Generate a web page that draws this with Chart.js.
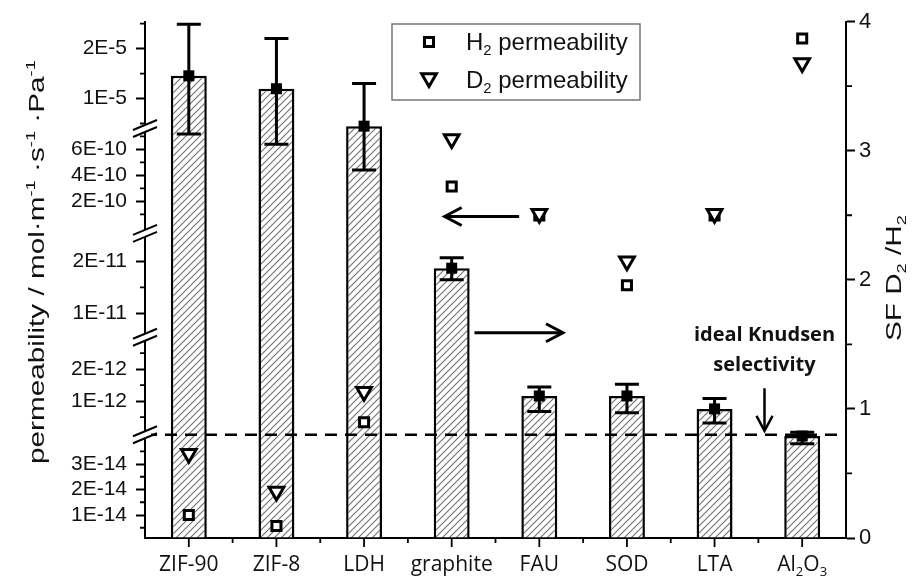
<!DOCTYPE html>
<html><head><meta charset="utf-8">
<script src="https://cdn.jsdelivr.net/npm/chart.js@4.4.0/dist/chart.umd.min.js"></script>
<style>html,body{margin:0;padding:0;background:#fff}canvas{display:block}</style>
</head><body>
<canvas id="c" width="916" height="577"></canvas>
<script>
// ---------- data ----------
const categories = ['ZIF-90','ZIF-8','LDH','graphite','FAU','SOD','LTA','Al_{2}O_{3}'];
const sfValues   = [3.58, 3.48, 3.19, 2.09, 1.10, 1.10, 1.00, 0.79];
const sfErrLow   = [3.13, 3.05, 2.85, 2.00, 0.98, 0.97, 0.89, 0.73];
const sfErrHigh  = [3.98, 3.87, 3.52, 2.17, 1.17, 1.19, 1.08, 0.82];
const h2Perm = [1.0e-14, 0.57e-14, 0.34e-12, 3.15e-10, 0.93e-10, 1.54e-11, 0.93e-10, 2.2e-5];
const d2Perm = [3.4e-14, 1.92e-14, 1.29e-12, 6.8e-10, 1.05e-10, 2.0e-11, 1.05e-10, 1.71e-5];
const knudsenSF = 0.80;
const permTickLabels = ['2E-5','1E-5','6E-10','4E-10','2E-10','2E-11','1E-11','2E-12','1E-12','3E-14','2E-14','1E-14'];
const permTickValues = [2e-5,1e-5,6e-10,4e-10,2e-10,2e-11,1e-11,2e-12,1e-12,3e-14,2e-14,1e-14];
const permMinorValues = [2.5e-5,1.5e-5,0.5e-5,7e-10,5e-10,3e-10,1e-10,1.5e-11,2.5e-12,1.5e-12,0.5e-12,3.5e-14,2.5e-14,1.5e-14,0.5e-14];
const sfMinorTicks = [0.5,1.5,2.5,3.5];

// ---------- broken left axis (piecewise linear, in units of the right axis) ----------
const permSegments = [
  {min:0,     max:1e-13, v0:1e-14, v1:3e-14, u0:0.178, u1:0.573},
  {min:1e-13, max:5e-12, v0:1e-12, v1:2e-12, u0:1.060, u1:1.308},
  {min:5e-12, max:5e-11, v0:1e-11, v1:2e-11, u0:1.741, u1:2.143},
  {min:5e-11, max:1e-8,  v0:2e-10, v1:6e-10, u0:2.607, u1:3.010},
  {min:1e-8,  max:1,     v0:1e-5,  v1:2e-5,  u0:3.404, u1:3.791}
];
const axisBreaksU = [0.80, 1.555, 2.36, 3.172];
function permToU(v){
  const s = permSegments.find(s => v >= s.min && v < s.max);
  return s.u0 + (v - s.v0) / (s.v1 - s.v0) * (s.u1 - s.u0);
}

// ---------- annotations (data coordinates: category index, right-axis units) ----------
const arrowNotes = [
  {from:[3.77, 2.49], to:[2.92, 2.49], head:17, half:9, lw:3},
  {from:[3.26, 1.59], to:[4.27, 1.59], head:17, half:9, lw:3},
  {from:[6.57, 1.16], to:[6.57, 0.83], head:15, half:8, lw:2.5}
];
const textNotes = [
  {text:'ideal Knudsen', at:[6.57, 1.583]},
  {text:'selectivity',   at:[6.57, 1.344]}
];

const SANS = '"Liberation Sans", Arial, sans-serif';
const LBL = '"Open Sans", sans-serif';

// ---------- rich text helpers ----------
function parseRich(str){
  const parts=[]; const re=/(_|\^)\{([^}]*)\}/g; let last=0, m;
  while((m=re.exec(str))){
    if(m.index>last) parts.push({t:str.slice(last,m.index)});
    parts.push({t:m[2], sub:m[1]==='_', sup:m[1]==='^'});
    last=re.lastIndex;
  }
  if(last<str.length) parts.push({t:str.slice(last)});
  return parts;
}
function fontFor(p,size,family,weight){ const fs=(p.sub||p.sup)?size*0.62:size; return `${weight} ${fs}px ${family}`; }
function drawRich(ctx,str,x,y,size,family,weight,align){
  const parts=parseRich(str); let w=0;
  for(const p of parts){ ctx.font=fontFor(p,size,family,weight); w+=ctx.measureText(p.t).width; }
  let cx = align==='center' ? x-w/2 : align==='right' ? x-w : x;
  ctx.textAlign='left'; ctx.textBaseline='alphabetic';
  for(const p of parts){
    ctx.font=fontFor(p,size,family,weight);
    const dy = p.sub ? size*0.22 : p.sup ? -size*0.42 : 0;
    ctx.fillText(p.t,cx,y+dy); cx+=ctx.measureText(p.t).width;
  }
}
function drawArrow(ctx,x1,y1,x2,y2,head,half,lw){
  ctx.lineWidth=lw; ctx.lineCap='butt'; ctx.lineJoin='miter';
  ctx.beginPath(); ctx.moveTo(x1,y1); ctx.lineTo(x2,y2); ctx.stroke();
  const a=Math.atan2(y2-y1,x2-x1), c=Math.cos(a), s=Math.sin(a);
  ctx.beginPath();
  ctx.moveTo(x2-head*c+half*s, y2-head*s-half*c);
  ctx.lineTo(x2,y2);
  ctx.lineTo(x2-head*c-half*s, y2-head*s+half*c);
  ctx.stroke();
}
function legendMarker(ctx,style,r,x,y,lw){
  ctx.save(); ctx.lineWidth=lw; ctx.strokeStyle='#000'; ctx.fillStyle='#fff'; ctx.lineJoin='miter';
  ctx.beginPath();
  if(style==='rect'){ const s=Math.SQRT1_2*r; ctx.rect(x-s,y-s,2*s,2*s); }
  else { const h=r*Math.sin(Math.PI/3); ctx.moveTo(x,y+r); ctx.lineTo(x-h,y-r/2); ctx.lineTo(x+h,y-r/2); ctx.closePath(); }
  ctx.fill(); ctx.stroke(); ctx.restore();
}

// ---------- hatch pattern ----------
function hatch(){
  const t=7, cv=document.createElement('canvas'); cv.width=t; cv.height=t;
  const g=cv.getContext('2d'); g.fillStyle='#fff'; g.fillRect(0,0,t,t);
  g.strokeStyle='#707070'; g.lineWidth=1.1;
  g.beginPath(); g.moveTo(-1,t+1); g.lineTo(t+1,-1); g.moveTo(-1,1); g.lineTo(1,-1); g.moveTo(t-1,t+1); g.lineTo(t+1,t-1); g.stroke();
  return g.createPattern(cv,'repeat');
}

const decor = {
  id:'decor',
  afterDatasetsDraw(chart){
    const {ctx, scales:{x, yR}, chartArea:a} = chart;
    ctx.save();
    ctx.strokeStyle='#000'; ctx.fillStyle='#000';
    ctx.lineWidth=3;
    for(let i=0;i<categories.length;i++){
      const px=x.getPixelForValue(i), yl=yR.getPixelForValue(sfErrLow[i]), yh=yR.getPixelForValue(sfErrHigh[i]), ym=yR.getPixelForValue(sfValues[i]);
      ctx.beginPath(); ctx.moveTo(px,yl); ctx.lineTo(px,yh);
      ctx.moveTo(px-12,yl); ctx.lineTo(px+12,yl); ctx.moveTo(px-12,yh); ctx.lineTo(px+12,yh); ctx.stroke();
      ctx.fillRect(px-5.5,ym-5.5,11,11);
    }
    const yk=yR.getPixelForValue(knudsenSF);
    ctx.lineWidth=2.5; ctx.setLineDash([12,8]);
    ctx.beginPath(); ctx.moveTo(a.left,yk); ctx.lineTo(a.right,yk); ctx.stroke();
    ctx.restore();
  },
  afterDraw(chart){
    const {ctx, scales:{x, yL, yR}, chartArea:a} = chart;
    ctx.save(); ctx.strokeStyle='#000'; ctx.fillStyle='#111';
    // minor ticks
    ctx.lineWidth=1.8;
    ctx.beginPath();
    for(const v of permMinorValues){ const y=yL.getPixelForValue(permToU(v)); ctx.moveTo(a.left-5,y); ctx.lineTo(a.left,y); }
    for(const v of sfMinorTicks){ const y=yR.getPixelForValue(v); ctx.moveTo(a.right,y); ctx.lineTo(a.right+6,y); }
    for(let i=0;i<categories.length;i++){ const px=x.getPixelForValue(i); ctx.moveTo(px,a.bottom); ctx.lineTo(px,a.bottom+9); }
    for(let i=0;i<categories.length-1;i++){ const px=x.getPixelForValue(i+0.5); ctx.moveTo(px,a.bottom); ctx.lineTo(px,a.bottom+5); }
    ctx.stroke();
    // axis breaks
    for(const u of axisBreaksU){
      const y=yL.getPixelForValue(u), ax=a.left;
      ctx.fillStyle='#fff';
      ctx.beginPath(); ctx.moveTo(ax-6,y+2.5+3.5); ctx.lineTo(ax+6,y-2.5+3.5); ctx.lineTo(ax+6,y-2.5-3.5); ctx.lineTo(ax-6,y+2.5-3.5); ctx.closePath(); ctx.fill();
      ctx.lineWidth=2; ctx.beginPath();
      ctx.moveTo(ax-12,y+5+3.5); ctx.lineTo(ax+12,y-5+3.5);
      ctx.moveTo(ax-12,y+5-3.5); ctx.lineTo(ax+12,y-5-3.5); ctx.stroke();
    }
    ctx.fillStyle='#111';
    // x labels
    for(let i=0;i<categories.length;i++) drawRich(ctx,categories[i],x.getPixelForValue(i),a.bottom+33,21,LBL,'400','center');
    // axis titles (stretched along their length as in the reference)
    ctx.save(); ctx.translate(36,262); ctx.rotate(-Math.PI/2); ctx.scale(1.35,1);
    drawRich(ctx,'permeability / mol·m^{-1} ·s^{-1} ·Pa^{-1}',0,8,22,SANS,'400','center'); ctx.restore();
    ctx.save(); ctx.translate(893,278); ctx.rotate(-Math.PI/2); ctx.scale(1.35,1);
    drawRich(ctx,'SF D_{2} /H_{2}',0,8,22,SANS,'400','center'); ctx.restore();
    // legend
    ctx.strokeStyle='#777'; ctx.lineWidth=1.5; ctx.strokeRect(392,24,248,76);
    const legendSets = chart.data.datasets.filter(d=>d.type==='line');
    legendSets.forEach((d,k)=>{
      const ly = 42 + k*38;
      legendMarker(ctx,d.pointStyle,d.pointRadius,429,ly+(d.pointRotation?-2:0),d.pointBorderWidth);
      ctx.fillStyle='#111';
      drawRich(ctx,d.label,466,ly+8,24,SANS,'400','left');
    });
    // arrows and notes
    ctx.strokeStyle='#000';
    for(const n of arrowNotes){
      drawArrow(ctx,x.getPixelForValue(n.from[0]),yR.getPixelForValue(n.from[1]),x.getPixelForValue(n.to[0]),yR.getPixelForValue(n.to[1]),n.head,n.half,n.lw);
    }
    ctx.fillStyle='#111';
    for(const t of textNotes) drawRich(ctx,t.text,x.getPixelForValue(t.at[0]),yR.getPixelForValue(t.at[1])+7,20,LBL,'700','center');
    ctx.restore();
  }
};

new Chart(document.getElementById('c'), {
  data: {
    labels: categories,
    datasets: [
      {type:'bar', label:'SF D2/H2', data:sfValues, yAxisID:'yR', order:3,
       backgroundColor:hatch(), borderColor:'#000', borderWidth:2.5, borderSkipped:'bottom',
       barPercentage:0.41, categoryPercentage:1},
      {type:'line', label:'H_{2} permeability', data:h2Perm.map(permToU), yAxisID:'yL', order:2,
       showLine:false, pointStyle:'rect', pointRadius:6.4, pointBorderWidth:3, pointBorderColor:'#000', pointBackgroundColor:'#fff'},
      {type:'line', label:'D_{2} permeability', data:d2Perm.map(permToU), yAxisID:'yL', order:1,
       showLine:false, pointStyle:'triangle', pointRotation:180, pointRadius:8.5, pointBorderWidth:3, pointBorderColor:'#000', pointBackgroundColor:'#fff'}
    ]
  },
  options: {
    responsive:false, animation:false, devicePixelRatio:1,
    layout:{padding:{top:20,left:0,right:0,bottom:0}},
    plugins:{legend:{display:false}, tooltip:{enabled:false}},
    scales:{
      x:{type:'category', offset:true, grid:{display:false, drawTicks:false}, ticks:{display:false},
         border:{display:true, color:'#000', width:2}, afterFit(s){ s.height=39; }},
      yL:{type:'linear', position:'left', min:0, max:4,
          afterBuildTicks(s){ s.ticks = permTickValues.map(v=>({value:permToU(v)})); },
          ticks:{callback:(v,i)=>permTickLabels[i], autoSkip:false, font:{family:SANS,size:21}, color:'#111', padding:9},
          grid:{drawOnChartArea:false, drawTicks:true, tickLength:9, tickColor:'#000', tickWidth:2},
          border:{display:true, color:'#000', width:2}, afterFit(s){ s.width=145; }},
      yR:{type:'linear', position:'right', min:0, max:4,
          ticks:{stepSize:1, font:{family:SANS,size:22}, color:'#111', padding:4},
          grid:{drawOnChartArea:false, drawTicks:true, tickLength:9, tickColor:'#000', tickWidth:2},
          border:{display:true, color:'#000', width:2}, afterFit(s){ s.width=70; }}
    }
  },
  plugins:[decor]
});
</script>
</body></html>
